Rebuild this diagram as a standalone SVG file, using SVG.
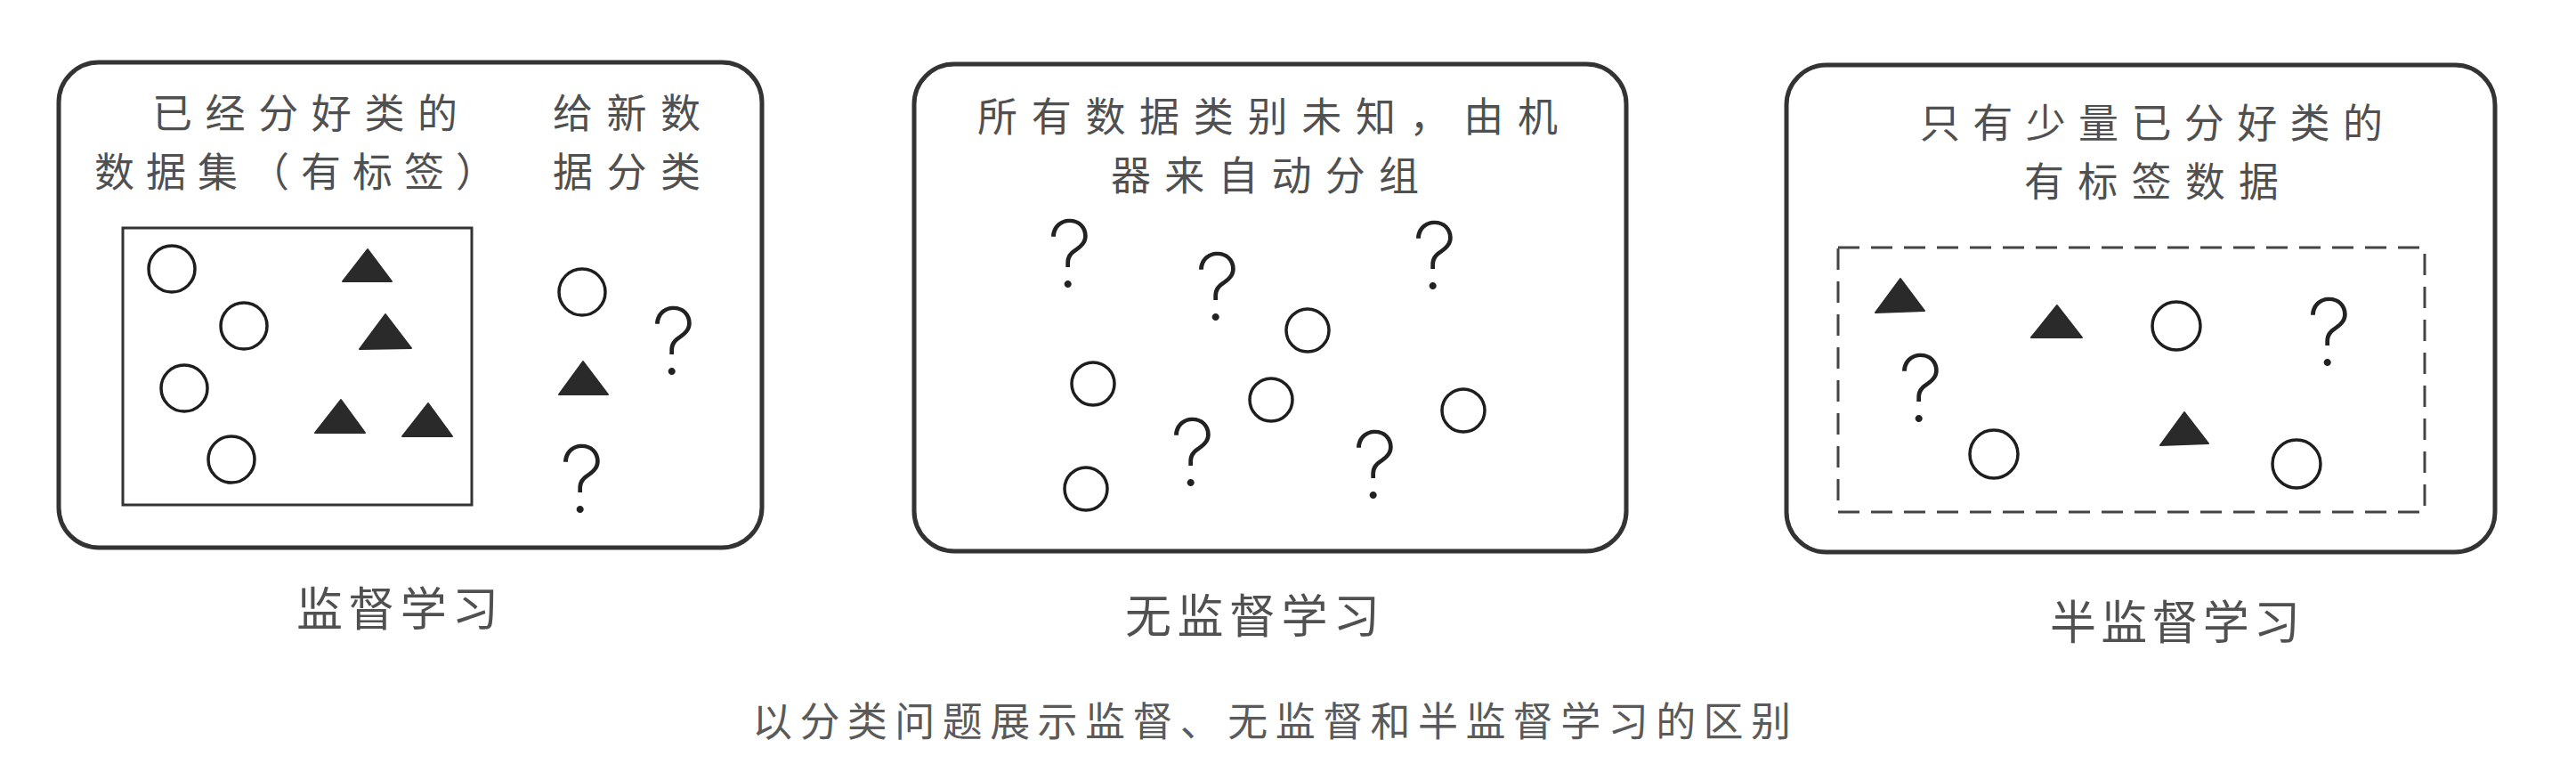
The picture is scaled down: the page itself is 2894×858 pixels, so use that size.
<svg xmlns="http://www.w3.org/2000/svg" width="2894" height="858" viewBox="0 0 2894 858">
<style>
.panel{fill:none;stroke:#333;stroke-width:5}
.inner{fill:none;stroke:#333;stroke-width:3}
.dash{fill:none;stroke:#444;stroke-width:3;stroke-dasharray:24 13}
.c{fill:none;stroke:#1e1e1e;stroke-width:3.5}
.t{fill:#2a2a2a;stroke:#2a2a2a;stroke-width:2;stroke-linejoin:round}
.q{font-family:Inter,"Liberation Sans",sans-serif;font-weight:200;font-size:104px;fill:#222;text-anchor:middle}
.h{font-family:"Noto Sans CJK SC","Noto Sans CJK JP",sans-serif;font-weight:400;font-size:45px;fill:#505050}
.lab{font-family:"Noto Sans CJK SC","Noto Sans CJK JP",sans-serif;font-weight:400;font-size:52px;fill:#505050}
.cap{font-family:"Noto Sans CJK SC","Noto Sans CJK JP",sans-serif;font-weight:400;font-size:45px;fill:#5a5a5a}
</style>
<rect width="2894" height="858" fill="#fff"/>

<g id="panel-supervised">
  <rect class="panel" x="66" y="70" width="790" height="545" rx="45"/>
  <text class="h" x="171" y="144" textLength="343" lengthAdjust="spacing">已经分好类的</text>
  <text class="h" x="106" y="210" textLength="451" lengthAdjust="spacing">数据集（有标签）</text>
  <text class="h" x="621" y="144" textLength="166" lengthAdjust="spacing">给新数</text>
  <text class="h" x="621" y="210" textLength="166" lengthAdjust="spacing">据分类</text>
  <rect class="inner" x="138" y="256" width="392" height="311"/>
  <circle class="c" cx="193" cy="302" r="26"/>
  <circle class="c" cx="274" cy="366" r="26"/>
  <circle class="c" cx="207" cy="436" r="26"/>
  <circle class="c" cx="260" cy="516" r="26"/>
  <polygon class="t" points="413,280 385,316 440,316"/>
  <polygon class="t" points="433,353 404,392 462,391"/>
  <polygon class="t" points="383,449 354,486 410,486"/>
  <polygon class="t" points="481,453 452,490 508,490"/>
  <circle class="c" cx="654" cy="328" r="26"/>
  <polygon class="t" points="655,406 628,443 683,443"/>
  <text class="q" x="757" y="420">?</text>
  <text class="q" x="654" y="575">?</text>
  <text class="lab" x="333" y="703" textLength="227" lengthAdjust="spacing">监督学习</text>
</g>

<g id="panel-unsupervised">
  <rect class="panel" x="1027" y="72" width="800" height="547" rx="45"/>
  <text class="h" x="1098" y="148" textLength="652" lengthAdjust="spacing">所有数据类别未知，由机</text>
  <text class="h" x="1248" y="214" textLength="346" lengthAdjust="spacing">器来自动分组</text>
  <text class="q" x="1202" y="322">?</text>
  <text class="q" x="1368" y="359">?</text>
  <text class="q" x="1612" y="324">?</text>
  <text class="q" x="1340" y="545">?</text>
  <text class="q" x="1545" y="559">?</text>
  <circle class="c" cx="1469" cy="371" r="24"/>
  <circle class="c" cx="1228" cy="431" r="24"/>
  <circle class="c" cx="1428" cy="449" r="24"/>
  <circle class="c" cx="1644" cy="461" r="24"/>
  <circle class="c" cx="1220" cy="549" r="24"/>
  <text class="lab" x="1264" y="711" textLength="286" lengthAdjust="spacing">无监督学习</text>
</g>

<g id="panel-semisupervised">
  <rect class="panel" x="2007" y="73" width="796" height="547" rx="45"/>
  <text class="h" x="2157" y="155" textLength="520" lengthAdjust="spacing">只有少量已分好类的</text>
  <text class="h" x="2274" y="221" textLength="286" lengthAdjust="spacing">有标签数据</text>
  <rect class="dash" x="2065" y="278" width="659" height="297"/>
  <polygon class="t" points="2135,313 2107,351 2162,349"/>
  <polygon class="t" points="2311,343 2282,379 2339,379"/>
  <polygon class="t" points="2454,463 2427,500 2481,498"/>
  <circle class="c" cx="2445" cy="366" r="27"/>
  <circle class="c" cx="2240" cy="510" r="27"/>
  <circle class="c" cx="2580" cy="521" r="27"/>
  <text class="q" x="2617" y="410">?</text>
  <text class="q" x="2158" y="473">?</text>
  <text class="lab" x="2303" y="718" textLength="281" lengthAdjust="spacing">半监督学习</text>
</g>

<g id="caption">
  <text class="cap" x="845" y="827" textLength="1167" lengthAdjust="spacing">以分类问题展示监督、无监督和半监督学习的区别</text>
</g>
<g id="connectors"></g>
</svg>
